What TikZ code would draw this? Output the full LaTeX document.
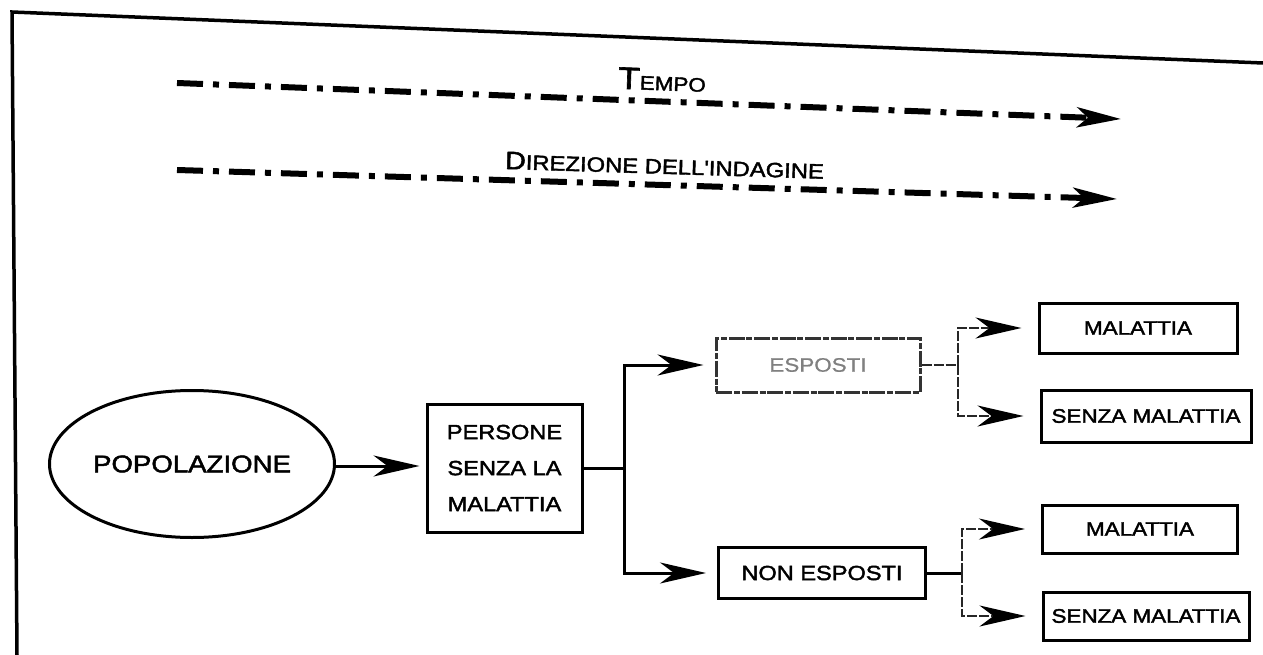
\documentclass[tikz,border=0pt]{standalone}
\usepackage{fontspec}
\setmainfont{Liberation Sans}
\newfontfamily\widesans[FakeStretch=1.15,FakeBold=2]{Liberation Sans}
\newfontfamily\widelight[FakeStretch=1.15,FakeBold=0.8]{Liberation Sans}
\usetikzlibrary{arrows.meta,shapes.geometric}

\newcommand{\capsz}[2]{{\fontsize{#1}{#1}\selectfont #2}}

\begin{document}
\begin{tikzpicture}[x=1pt,y=-1pt,
  lbl/.style={font=\widesans\fontsize{19.5}{36}\selectfont, align=center, inner sep=0pt},
  box/.style={lbl, draw, line width=3pt},
  worn/.style={draw=black!80, text=black!50, font=\widelight\fontsize{19.5}{36}\selectfont,
    dash pattern=on 16pt off 2pt on 6pt off 1.5pt},
  link/.style={line width=3pt},
  wornlink/.style={line width=2.6pt, draw=black!85, dash pattern=on 10pt off 2pt},
  tip/.style={-{Stealth[length=46pt,width=21pt,inset=14pt]}},
  wtip/.style={-{Stealth[length=46pt,width=21pt,inset=14pt,color=black]}},
  timeline/.style={line width=6pt, dash pattern=on 26pt off 10pt on 6pt off 10pt,
    -{Stealth[length=44pt,width=20pt,inset=11pt]}},
  tlabel/.style={font=\widesans, inner sep=0pt, sloped, above=8pt},
]
\useasboundingbox (0,0) rectangle (1263,655);

% page frame
\coordinate (frameTR) at (1263,63);
\coordinate (frameTL) at (12,12);
\coordinate (frameBL) at (17,655);
\draw[line width=3.5pt] (frameTR) -- (frameTL) -- (frameBL);

% time and direction of the study
\coordinate (tA) at (177,83);
\coordinate (tB) at (1121,119);
\coordinate (dA) at (177,170);
\coordinate (dB) at (1117,199);
\draw[timeline] (tA) -- node[tlabel, pos=.513] {\capsz{31}{T}\capsz{19.5}{EMPO}} (tB);
\draw[timeline] (dA) -- node[tlabel, pos=.518] {\capsz{25}{D}\capsz{20.7}{IREZIONE DELL'INDAGINE}} (dB);

% nodes
\node[lbl, font=\widesans\fontsize{24}{36}\selectfont, draw, ellipse, line width=3pt,
  minimum width=285pt, minimum height=147pt] (pop) at (192,464) {POPOLAZIONE};
\node[box, font=\widesans\fontsize{20.5}{36}\selectfont, minimum width=155pt, minimum height=128pt]
  (pers) at (504.5,468) {PERSONE\\SENZA LA\\MALATTIA};

\node[box, worn, minimum width=204pt, minimum height=54pt] (esp) at (818,365) {ESPOSTI};
\node[box, font=\widesans\fontsize{20.5}{36}\selectfont, minimum width=207pt, minimum height=51pt]
  (nesp) at (822,573) {NON ESPOSTI};

\node[box, minimum width=198pt, minimum height=50pt] (malA) at (1138,328) {MALATTIA};
\node[box, minimum width=210pt, minimum height=52pt] (senA) at (1146,416) {SENZA MALATTIA};
\node[box, minimum width=195pt, minimum height=48pt] (malB) at (1140,529) {MALATTIA};
\node[box, minimum width=206pt, minimum height=48pt] (senB) at (1146,616) {SENZA MALATTIA};

% fork positions
\coordinate (forkA) at (624,0);
\coordinate (forkB) at (958,0);
\coordinate (forkC) at (962,0);

% connectors
\draw[link, tip, shorten >=6pt] (pop.east |- 0,466) -- (pers.west |- 0,466);
\draw[link] (pers.east) -- (forkA |- pers.east);
\draw[link, tip, shorten >=11pt] (forkA |- pers.east) |- (esp.west);
\draw[link, tip, shorten >=11pt] (forkA |- pers.east) |- (nesp.west);

\draw[wornlink] (esp.east) -- (forkB |- esp.east);
\draw[wornlink, wtip, shorten >=16pt] (forkB |- esp.east) |- (malA.west);
\draw[wornlink, wtip, shorten >=16pt] (forkB |- esp.east) |- (senA.west);

\draw[link] (nesp.east) -- (forkC |- nesp.east);
\draw[wornlink, wtip, shorten >=16pt] (forkC |- nesp.east) |- (malB.west);
\draw[wornlink, wtip, shorten >=16pt] (forkC |- nesp.east) |- (senB.west);
\end{tikzpicture}
\end{document}
